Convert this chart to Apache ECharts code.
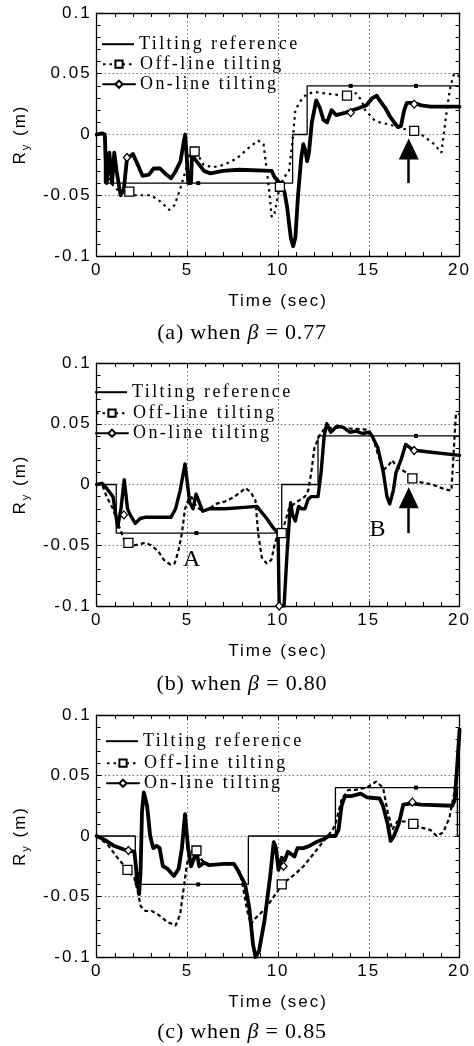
<!DOCTYPE html>
<html>
<head>
<meta charset="utf-8">
<script src="https://cdn.jsdelivr.net/npm/echarts@6/dist/echarts.min.js"></script>
<style>
html,body{margin:0;padding:0;background:#fff;}
#chart{width:474px;height:1046px;}
</style>
</head>
<body>
<div id="chart"></div>
<script>
// ---------------- data (time in s, Ry in m) ----------------
const xTicks = [0, 5, 10, 15, 20];
const yTicks = ['-0.1', '-0.05', '0', '0.05', '0.1'];
const seriesNames = ['Tilting reference', 'Off-line tilting', 'On-line tilting'];
const panelLabels = ['(a)', '(b)', '(c)'];
const betas = ['0.77', '0.80', '0.85'];
const xName = 'Time (sec)';

// (a) beta = 0.77
const refA = [[0,0],[0.43,0],[0.43,-0.04],[10.8,-0.04],[10.8,0],[11.6,0],[11.6,0.04],[20,0.04]];
const offA = [[0,0],[0.45,0],[0.6,-0.03],[0.8,-0.04],[1.1,-0.045],[1.5,-0.048],[1.8,-0.05],[3.0,-0.05],[3.5,-0.055],[4.0,-0.062],[4.3,-0.058],[4.6,-0.045],[4.9,-0.03],[5.1,-0.018],[5.3,-0.012],[5.5,-0.015],[5.9,-0.025],[6.4,-0.027],[7.0,-0.025],[7.7,-0.02],[8.3,-0.012],[8.9,-0.005],[9.2,-0.008],[9.5,-0.045],[9.65,-0.068],[9.8,-0.065],[10.1,-0.042],[10.35,-0.035],[10.6,-0.03],[10.8,-0.005],[10.95,0.02],[11.2,0.027],[11.55,0.033],[12,0.035],[13,0.033],[13.8,0.032],[14.3,0.034],[14.6,0.028],[14.8,0.02],[15.3,0.012],[15.6,0.01],[16.2,0.008],[16.8,0.005],[17.5,0.003],[17.9,0.0],[18.6,-0.008],[19.0,-0.015],[19.3,0.02],[19.5,0.04],[19.7,0.05],[20,0.048]];
const onA = [[0,0],[0.3,0.001],[0.45,0],[0.55,-0.04],[0.7,-0.015],[0.85,-0.04],[0.97,-0.015],[1.1,-0.03],[1.32,-0.05],[1.5,-0.045],[1.67,-0.02],[2.0,-0.016],[2.27,-0.025],[2.53,-0.034],[2.88,-0.033],[3.14,-0.028],[3.5,-0.028],[3.84,-0.033],[4.1,-0.036],[4.36,-0.03],[4.62,-0.022],[4.8,-0.006],[4.88,0.0],[4.97,-0.02],[5.05,-0.04],[5.2,-0.04],[5.26,-0.015],[5.4,-0.02],[5.66,-0.025],[5.92,-0.03],[6.27,-0.032],[6.96,-0.03],[7.83,-0.029],[9.65,-0.03],[9.8,-0.035],[10.1,-0.04],[10.35,-0.047],[10.5,-0.06],[10.7,-0.085],[10.83,-0.092],[10.95,-0.085],[11.1,-0.05],[11.27,-0.02],[11.39,-0.008],[11.5,-0.013],[11.6,-0.022],[11.7,-0.015],[11.86,0.01],[12.1,0.028],[12.3,0.022],[12.5,0.012],[12.7,0.01],[12.95,0.02],[13.2,0.016],[13.73,0.018],[14.1,0.02],[14.5,0.022],[14.86,0.024],[15.2,0.03],[15.43,0.032],[15.6,0.028],[15.9,0.022],[16.16,0.015],[16.4,0.01],[16.6,0.006],[16.77,0.007],[16.95,0.02],[17.1,0.026],[17.47,0.026],[17.9,0.024],[18.4,0.023],[20,0.023]];
const refA_marks = [[5.6,-0.04],[14.0,0.04],[17.6,0.04]];
const offA_marks = [[1.8,-0.047],[5.4,-0.014],[10.1,-0.043],[13.8,0.032],[17.5,0.003]];
const onA_marks = [[1.67,-0.019],[14.0,0.018],[17.5,0.025]];
const arrowA = [[17.2,-0.04],[17.2,-0.012]];

// (b) beta = 0.80
const refB = [[0,0],[1.08,0],[1.08,-0.04],[10.2,-0.04],[10.2,0],[12.2,0],[12.2,0.04],[20,0.04]];
const offB = [[0,0],[0.3,0],[0.55,-0.01],[0.9,-0.02],[1.25,-0.035],[1.5,-0.045],[1.7,-0.049],[2.1,-0.05],[2.66,-0.048],[3.0,-0.05],[3.4,-0.055],[3.7,-0.062],[4.07,-0.066],[4.3,-0.065],[4.5,-0.055],[4.7,-0.04],[4.87,-0.02],[5.04,-0.013],[5.22,-0.01],[5.48,-0.018],[5.84,-0.022],[6.2,-0.02],[6.55,-0.016],[7.07,-0.014],[7.6,-0.01],[7.95,-0.006],[8.2,-0.003],[8.48,-0.006],[8.75,-0.013],[8.9,-0.04],[9.1,-0.06],[9.37,-0.065],[9.63,-0.062],[9.8,-0.05],[10.0,-0.04],[10.2,-0.04],[10.6,-0.02],[10.95,-0.015],[11.48,-0.01],[11.66,-0.005],[11.83,0.01],[12.0,0.03],[12.27,0.04],[12.5,0.045],[13.0,0.047],[14.0,0.046],[15.0,0.045],[15.2,0.04],[15.5,0.025],[15.8,0.012],[16.05,0.015],[16.3,0.02],[16.5,0.015],[16.7,0.013],[17.05,0.01],[17.4,0.005],[17.8,0.002],[18.5,0.0],[19.2,-0.004],[19.55,-0.005],[19.65,0.02],[19.8,0.058],[20,0.058]];
const onB = [[0,0],[0.3,0.001],[0.55,-0.003],[0.9,-0.01],[1.16,-0.035],[1.34,-0.02],[1.52,0.004],[1.7,-0.02],[1.85,-0.025],[2.13,-0.032],[2.4,-0.028],[2.66,-0.027],[4.1,-0.027],[4.35,-0.02],[4.6,-0.005],[4.87,0.017],[5.13,-0.015],[5.31,-0.02],[5.48,-0.008],[5.66,-0.015],[5.84,-0.022],[6.2,-0.02],[7.07,-0.02],[7.95,-0.019],[8.83,-0.018],[9.37,-0.028],[9.7,-0.035],[10.0,-0.04],[10.06,-0.1],[10.33,-0.1],[10.5,-0.055],[10.69,-0.015],[10.8,-0.025],[10.95,-0.03],[11.13,-0.018],[11.3,-0.02],[11.48,-0.02],[11.66,-0.012],[11.83,-0.01],[12.2,-0.01],[12.37,0.01],[12.54,0.04],[12.68,0.05],[12.9,0.043],[13.24,0.048],[13.6,0.047],[13.95,0.043],[14.3,0.044],[14.65,0.042],[15.0,0.043],[15.18,0.04],[15.5,0.03],[15.8,0.01],[16.0,-0.01],[16.15,-0.016],[16.35,-0.005],[16.5,0.01],[16.77,0.02],[17.03,0.033],[17.3,0.03],[17.65,0.028],[18.2,0.027],[20,0.024]];
const refB_marks = [[5.5,-0.04],[17.6,0.04]];
const offB_marks = [[1.75,-0.048],[10.2,-0.04],[17.4,0.005]];
const onB_marks = [[1.5,-0.025],[10.06,-0.1],[17.5,0.028]];
const arrowB = [[17.2,-0.04],[17.2,-0.011]];
const textB = [['A',5.26,-0.062],['B',15.5,-0.037]];

// (c) beta = 0.85
const refC = [[0,0],[2.13,0],[2.13,-0.04],[8.36,-0.04],[8.36,0],[13.16,0],[13.16,0.04],[19.88,0.04],[19.88,0],[20,0]];
const offC = [[0,0],[0.6,-0.007],[1.1,-0.017],[1.64,-0.027],[2.08,-0.035],[2.25,-0.045],[2.43,-0.058],[2.69,-0.062],[3.04,-0.062],[3.39,-0.065],[3.9,-0.071],[4.35,-0.074],[4.6,-0.065],[4.78,-0.045],[4.96,-0.025],[5.13,-0.013],[5.48,-0.013],[5.8,-0.02],[6.2,-0.024],[7.0,-0.023],[7.6,-0.024],[7.9,-0.03],[8.1,-0.045],[8.3,-0.062],[8.5,-0.073],[8.75,-0.068],[9.3,-0.06],[10.0,-0.045],[10.2,-0.04],[10.9,-0.032],[11.4,-0.025],[11.94,-0.015],[12.46,-0.005],[13.0,0.005],[13.16,0.01],[13.33,0.02],[13.5,0.03],[13.86,0.038],[14.2,0.038],[14.9,0.04],[15.4,0.045],[15.78,0.04],[16.04,0.02],[16.3,0.005],[16.56,0.012],[17.0,0.012],[17.43,0.01],[17.87,0.007],[18.4,0.005],[18.74,0.0],[19.1,0.003],[19.44,0.015],[19.7,0.035],[19.88,0.06],[20,0.08]];
const onC = [[0,0],[0.42,-0.003],[0.94,-0.008],[1.47,-0.011],[1.8,-0.012],[2.08,-0.013],[2.2,-0.03],[2.34,-0.048],[2.42,-0.03],[2.5,0.02],[2.6,0.036],[2.78,0.025],[2.95,0.0],[3.12,-0.01],[3.3,-0.008],[3.47,-0.01],[3.65,-0.025],[3.9,-0.027],[4.26,-0.033],[4.52,-0.027],[4.7,-0.01],[4.87,0.018],[5.04,-0.01],[5.2,-0.025],[5.38,-0.018],[5.5,-0.012],[5.65,-0.025],[5.92,-0.022],[6.18,-0.024],[7.05,-0.023],[7.57,-0.023],[7.84,-0.03],[8.18,-0.04],[8.42,-0.06],[8.62,-0.09],[8.76,-0.1],[8.95,-0.095],[9.25,-0.07],[9.55,-0.035],[9.76,-0.005],[9.88,-0.01],[10.02,-0.028],[10.2,-0.018],[10.37,-0.02],[10.54,-0.013],[10.9,-0.017],[11.07,-0.01],[11.4,-0.01],[11.75,-0.008],[12.1,-0.005],[12.46,-0.003],[12.81,0.0],[13.16,0.0],[13.33,0.005],[13.5,0.025],[13.68,0.033],[14.03,0.033],[14.55,0.035],[14.9,0.032],[15.6,0.031],[15.78,0.025],[16.04,0.01],[16.2,-0.004],[16.38,0.0],[16.65,0.01],[16.9,0.026],[17.35,0.027],[17.87,0.026],[19.6,0.025],[19.74,0.03],[19.88,0.06],[20,0.088]];
const refC_marks = [[5.6,-0.04],[17.6,0.04]];
const offC_marks = [[1.7,-0.028],[5.5,-0.012],[10.2,-0.04],[17.45,0.01]];
const onC_marks = [[1.75,-0.012],[10.3,-0.025],[17.4,0.028]];

// ---------------- text letter spacing (to mimic the scanned typography) ----------------
(function () {
  const P = CanvasRenderingContext2D.prototype;
  function sp(f) {
    const m = /(\d+(?:\.\d+)?)px/.exec(f || '');
    const s = m ? parseFloat(m[1]) : 12;
    if (/Serif/.test(f)) return s >= 21 ? '0.8px' : '2.4px';
    return '2px';
  }
  const mt = P.measureText, ft = P.fillText, st = P.strokeText;
  P.measureText = function (t) { try { this.letterSpacing = sp(this.font); } catch (e) {} return mt.call(this, t); };
  P.fillText = function () { try { this.letterSpacing = sp(this.font); } catch (e) {} return ft.apply(this, arguments); };
  P.strokeText = function () { try { this.letterSpacing = sp(this.font); } catch (e) {} return st.apply(this, arguments); };
})();

// ---------------- layout ----------------
const SANS = 'Liberation Sans', SERIF = 'Liberation Serif';
const panels = [
  { ref: refA, off: offA, on: onA, refM: refA_marks, offM: offA_marks, onM: onA_marks, arrow: arrowA, text: [],
    grid: { left: 83, top: 13, width: 384, height: 243 }, capY: 333, legX: 102, legY: [43, 63, 83], dash: [2.5, 4], onW: 3.8, nameGapY: 56 },
  { ref: refB, off: offB, on: onB, refM: refB_marks, offM: offB_marks, onM: onB_marks, arrow: arrowB, text: textB,
    grid: { left: 83, top: 363, width: 378, height: 243 }, capY: 684, legX: 95, legY: [391, 412, 432], dash: [4, 3], onW: 3.4, nameGapY: 56 },
  { ref: refC, off: offC, on: onC, refM: refC_marks, offM: offC_marks, onM: onC_marks, arrow: null, text: [],
    grid: { left: 82, top: 715, width: 382, height: 242 }, capY: 1032, legX: 106, legY: [740, 762, 782], dash: [4, 3], onW: 3.8, nameGapY: 55 }
];

const grids = [], xAxes = [], yAxes = [], series = [], legends = [], graphics = [];
const black = '#000';
const mkGrid = () => ({ show: true, lineStyle: { color: '#6e6e6e', width: 1, type: [1.5, 2.5] } });
const mkTick = () => ({ show: true, inside: true, length: 5, lineStyle: { color: black, width: 1 } });
const mkMinor = () => ({ show: true, splitNumber: 5, length: 4, lineStyle: { color: black, width: 1 } });
const mkLine = () => ({ show: true, onZero: false, lineStyle: { color: black, width: 1.3 } });

panels.forEach((p, g) => {
  grids.push(Object.assign({}, p.grid));
  xAxes.push({
    type: 'value', gridIndex: g, min: 0, max: 20, interval: 5,
    axisLine: mkLine(), axisTick: mkTick(), minorTick: mkMinor(), splitLine: mkGrid(),
    axisLabel: { show: true, margin: 5, color: black, fontFamily: SANS, fontSize: 17,
      formatter: v => String(xTicks[Math.round(v / 5)]) },
    name: xName, nameLocation: 'middle', nameGap: 36,
    nameTextStyle: { color: black, fontFamily: SANS, fontSize: 17 }
  }, {
    type: 'value', gridIndex: g, position: 'top', min: 0, max: 20, interval: 5,
    axisLine: mkLine(), axisTick: mkTick(), minorTick: mkMinor(),
    splitLine: { show: false }, axisLabel: { show: false }
  });
  yAxes.push({
    type: 'value', gridIndex: g, min: -0.1, max: 0.1, interval: 0.05,
    axisLine: mkLine(), axisTick: mkTick(), minorTick: mkMinor(), splitLine: mkGrid(),
    axisLabel: { show: true, margin: 5, color: black, fontFamily: SANS, fontSize: 17,
      formatter: v => yTicks[Math.round((v + 0.1) / 0.05)] },
    name: 'R{s|y} (m)', nameLocation: 'middle', nameGap: p.nameGapY, nameRotate: 90,
    nameTextStyle: { color: black, fontFamily: SANS, fontSize: 17, lineHeight: 24,
      rich: { s: { fontFamily: SANS, fontSize: 11, lineHeight: 12, verticalAlign: 'bottom', color: black } } }
  }, {
    type: 'value', gridIndex: g, position: 'right', min: -0.1, max: 0.1, interval: 0.05,
    axisLine: mkLine(), axisTick: mkTick(), minorTick: mkMinor(),
    splitLine: { show: false }, axisLabel: { show: false }
  });
  const xi = 2 * g, yi = 2 * g;

  series.push({ type: 'line', name: seriesNames[1], xAxisIndex: xi, yAxisIndex: yi, data: p.off,
    symbol: 'emptyRect', symbolSize: 9, showSymbol: false, z: 2,
    lineStyle: { color: black, width: 2.2, type: p.dash }, itemStyle: { color: black } });
  series.push({ type: 'line', name: seriesNames[0], xAxisIndex: xi, yAxisIndex: yi, data: p.ref,
    symbol: 'none', z: 3, lineStyle: { color: black, width: 1.3 }, itemStyle: { color: black } });
  const onSeries = { type: 'line', name: seriesNames[2], xAxisIndex: xi, yAxisIndex: yi, data: p.on,
    symbol: 'emptyDiamond', symbolSize: 8, showSymbol: false, z: 4,
    lineStyle: { color: black, width: p.onW, join: 'round', cap: 'round' }, itemStyle: { color: black } };
  if (p.arrow) {
    onSeries.markLine = { silent: true, animation: false, symbol: ['none', 'triangle'], symbolSize: [20, 21],
      lineStyle: { color: black, width: 2.5, type: 'solid' }, label: { show: false },
      itemStyle: { color: black },
      data: [[{ coord: p.arrow[0] }, { coord: p.arrow[1] }]] };
  }
  if (p.text.length) {
    onSeries.markPoint = { silent: true, animation: false, symbol: 'circle', symbolSize: 1,
      itemStyle: { color: 'rgba(0,0,0,0)' },
      label: { show: true, position: 'inside', formatter: '{b}', color: black, fontFamily: SERIF, fontSize: 24 },
      data: p.text.map(t => ({ name: t[0], coord: [t[1], t[2]] })) };
  }
  series.push(onSeries);
  series.push({ type: 'scatter', name: 'ref-marks-' + g, xAxisIndex: xi, yAxisIndex: yi, data: p.refM,
    symbol: 'rect', symbolSize: 4, z: 5, silent: true, itemStyle: { color: black, opacity: 1 } });
  series.push({ type: 'scatter', name: 'off-marks-' + g, xAxisIndex: xi, yAxisIndex: yi, data: p.offM,
    symbol: 'rect', symbolSize: 9, z: 6, silent: true, itemStyle: { color: '#fff', borderColor: black, borderWidth: 1.3, opacity: 1 } });
  series.push({ type: 'scatter', name: 'on-marks-' + g, xAxisIndex: xi, yAxisIndex: yi, data: p.onM,
    symbol: 'diamond', symbolSize: [7, 8], z: 6, silent: true, itemStyle: { color: '#fff', borderColor: black, borderWidth: 1.3, opacity: 1 } });

  const legText = { color: black, fontFamily: SERIF, fontSize: 18 };
  legends.push({ data: [seriesNames[0]], icon: 'rect', itemWidth: 32, itemHeight: 2, left: p.legX, top: p.legY[0] - 9,
    padding: 0, selectedMode: false, textStyle: legText, itemStyle: { color: black } });
  legends.push({ data: [seriesNames[1]], itemWidth: 32, itemHeight: 9, left: p.legX, top: p.legY[1] - 9,
    padding: 0, selectedMode: false, textStyle: legText });
  legends.push({ data: [seriesNames[2]], itemWidth: 32, itemHeight: 9, left: p.legX, top: p.legY[2] - 9,
    padding: 0, selectedMode: false, textStyle: legText });

  graphics.push({ type: 'text', x: 242, y: p.capY, silent: true,
    style: { text: panelLabels[g] + ' when {i|β} = ' + betas[g], fill: black, fontFamily: SERIF, fontSize: 22,
      align: 'center', verticalAlign: 'middle',
      rich: { i: { fontStyle: 'italic', fontFamily: SERIF, fontSize: 22, fill: black } } } });
});

const chart = echarts.init(document.getElementById('chart'), null, { renderer: 'canvas' });
chart.setOption({
  backgroundColor: '#fff',
  animation: false,
  grid: grids,
  xAxis: xAxes,
  yAxis: yAxes,
  legend: legends,
  series: series,
  graphic: graphics
});
</script>
</body>
</html>
